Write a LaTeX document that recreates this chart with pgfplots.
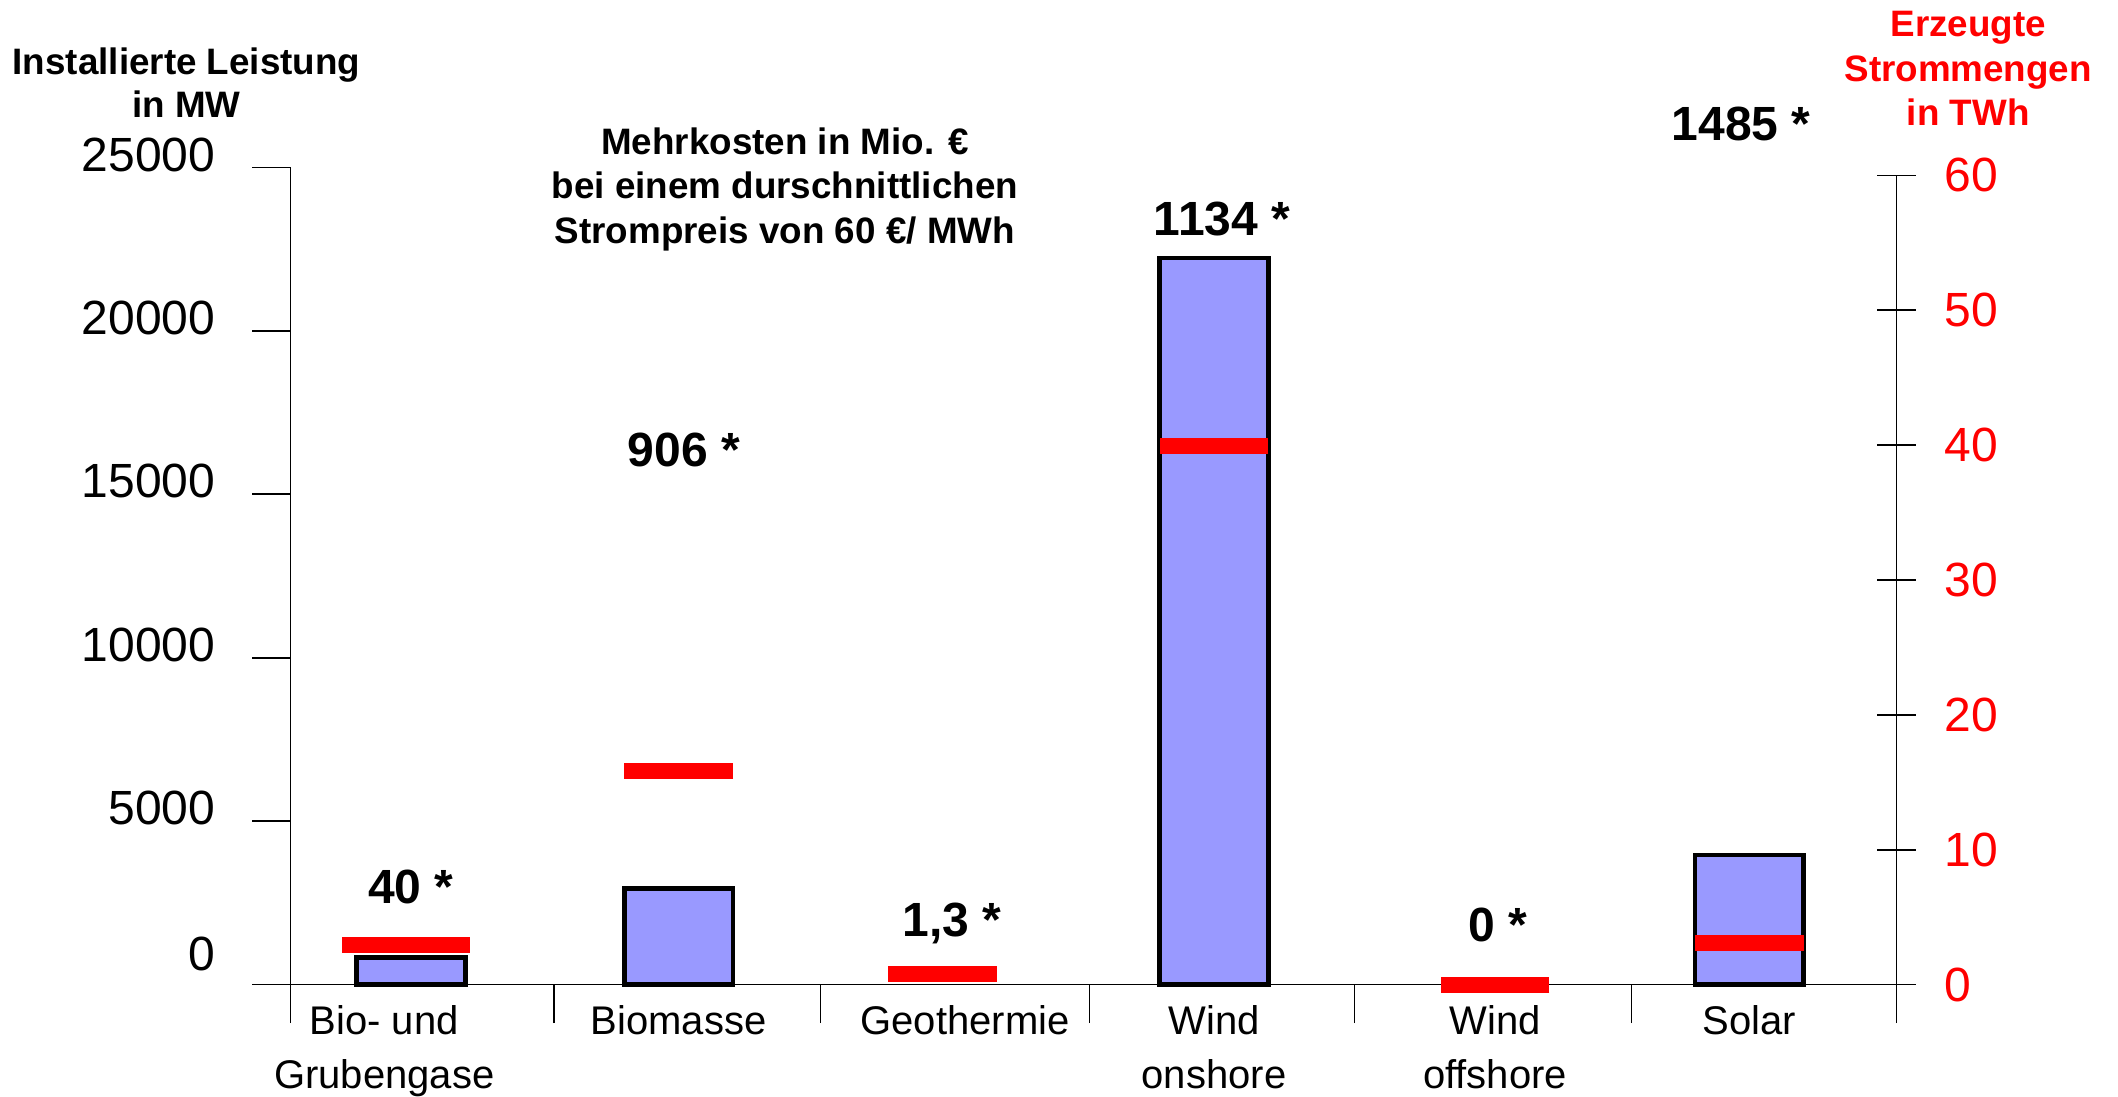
\documentclass[border=0pt]{standalone}
\usepackage{pgfplots}
\pgfplotsset{compat=1.18}
\usepackage{fontspec}
\setmainfont{Liberation Sans}
\definecolor{barblue}{HTML}{9999FF}
\definecolor{pred}{HTML}{FF0000}
\begin{document}
\begin{tikzpicture}
\begin{axis}[
  at={(0,0)}, anchor=south west,
  scale only axis, width=501.9pt, height=255.4pt,
  xmin=-0.45, xmax=5.55, ymin=0, ymax=25000,
  axis x line*=bottom, axis y line*=left,
  axis line style={-, line width=0.5pt},
  clip=false,
  scaled y ticks=false,
  xtick={-0.45,0.535,1.53,2.535,3.525,4.56,5.55},
  xticklabels={},
  x tick style={line width=0.5pt, black},
  extra x ticks={-0.1,1,2.07,3,4.05,5},
  extra x tick labels={Bio- und\\Grubengase,Biomasse,Geothermie,Wind\\onshore,Wind\\offshore,Solar},
  extra x tick style={tick style={draw=none}},
  xticklabel style={align=center, font=\fontsize{12.5}{16.9}\selectfont, yshift=9pt},
  ytick={0,5000,10000,15000,20000,25000},
  yticklabels={\raisebox{11pt}{0},5000,10000,15000,20000,25000},
  yticklabel style={font=\fontsize{15}{18}\selectfont, yshift=4pt, xshift=-8pt},
  y tick style={line width=0.5pt, black},
  tick align=outside, major tick length=12pt,
]
\addplot[ybar, bar width=34pt, bar shift=0pt, fill=barblue, draw=black, line width=1.5pt]
  coordinates {(0,826) (1,2934) (3,22230) (5,3967)};
\node[font=\bfseries\fontsize{15}{18}\selectfont] at (axis cs:0,2975) {40 *};
\node[font=\bfseries\fontsize{15}{18}\selectfont] at (axis cs:1.02,16364) {906 *};
\node[font=\bfseries\fontsize{15}{18}\selectfont] at (axis cs:2.02,1860) {1,3 *};
\node[font=\bfseries\fontsize{15}{18}\selectfont] at (axis cs:3.03,23430) {1134 *};
\node[font=\bfseries\fontsize{15}{18}\selectfont] at (axis cs:4.06,1818) {0 *};
\node[font=\bfseries\fontsize{15}{18}\selectfont] at (axis cs:4.97,26322) {1485 *};
\node[font=\bfseries\fontsize{11.5}{13.5}\selectfont, align=center] at (axis description cs:-0.0648,1.104) {Installierte Leistung\\in MW};
\node[font=\bfseries\fontsize{11.5}{13.9}\selectfont, align=center, text=pred] at (axis description cs:1.0446,1.121) {Erzeugte\\Strommengen\\in TWh};
\node[font=\bfseries\fontsize{11.5}{13.9}\selectfont, align=center] at (axis description cs:0.3078,0.9735) {Mehrkosten in Mio. €\\bei einem durschnittlichen\\Strompreis von 60 €/ MWh};
\end{axis}
\begin{axis}[
  at={(0,0)}, anchor=south west,
  scale only axis, width=501.9pt, height=252.9pt,
  xmin=-0.45, xmax=5.55, ymin=0, ymax=60,
  axis y line*=right, axis x line=none,
  axis line style={-, line width=0.5pt},
  clip=false,
  ytick={0,10,20,30,40,50,60},
  yticklabels={0,10,20,30,40,50,60},
  yticklabel style={text=pred, font=\fontsize{15}{18}\selectfont, xshift=5.5pt},
  y tick style={line width=0.5pt, black},
  tick align=center, major tick length=12pt,
]
\addplot[only marks, mark=-, mark size=20pt, color=pred, mark options={line width=5pt}]
  coordinates {(-0.02,2.9)};
\addplot[only marks, mark=-, mark size=17pt, color=pred, mark options={line width=5pt}]
  coordinates {(1,15.8) (1.985,0.8) (3,39.9) (4.05,0) (5,3.1)};
\end{axis}
\pgfresetboundingbox
\path (-90.8pt,-35pt) rectangle (571.1pt,307.7pt);
\end{tikzpicture}
\end{document}
